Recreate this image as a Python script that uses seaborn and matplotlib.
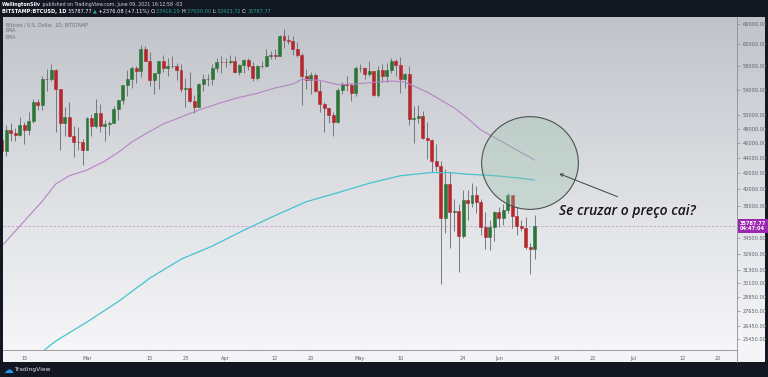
import numpy as np
import pandas as pd
import matplotlib
matplotlib.use("Agg")
import matplotlib.pyplot as plt
import matplotlib.dates as mdates
from matplotlib.colors import LinearSegmentedColormap
from matplotlib.patches import Ellipse, Rectangle
from matplotlib.lines import Line2D
import matplotlib.transforms as mtransforms
import seaborn as sns

# ---------------- data ----------------
start_date = "2021-02-10"
end_date = "2021-06-09"

opens = [46420, 44850, 47900, 47400, 47200, 48600, 47900, 49200, 52100, 51600,
         55900, 55850, 57400, 54100, 48900, 49700, 47000, 46200, 46100,
         45100, 49600, 48400, 50400, 48400, 48700, 48900, 51000, 52400, 54900,
         55900, 57800, 57200, 61200, 58970, 55600, 56900, 58900, 57650, 58050,
         58100, 57350, 54100, 54350, 52300, 51300, 55050, 55850, 55800, 57650, 58800,
         58750, 58720, 59000, 57050, 58200, 59100, 58000, 56000, 58100, 58050,
         59800, 59950, 59900, 63500, 62900, 62700, 61200, 60000, 56300, 55700,
         56500, 53800, 51700, 51150, 50100, 49050, 54000, 55050, 54850, 53550,
         57750, 57800, 56600, 57200, 53200, 57450, 56400, 57400, 58900, 58250,
         55850, 56700, 49400, 49650, 49900, 46750, 46450, 43550, 42850, 36650,
         40600, 37300, 37500, 34700, 38750, 38350, 39300, 38500, 35700, 34600, 35700,
         37300, 36700, 37600, 39250, 36850, 35800, 35550, 33600, 33416.19]
highs = [47300, 48600, 48900, 48100, 49700, 49000, 50600, 52600, 52500, 56300,
         57500, 58350, 57500, 54200, 51300, 52000, 48400, 48300, 46600,
         49800, 50200, 52600, 51800, 49300, 49200, 51400, 52400, 54900, 57400,
         58100, 58000, 61800, 61700, 60600, 56900, 58900, 60000, 59400, 59900,
         58600, 58400, 55990, 57000, 53200, 55100, 56600, 56600, 58400, 59400, 59800,
         59500, 60000, 59800, 58500, 59300, 59400, 58700, 58200, 58900, 61200,
         60700, 61100, 63800, 64850, 63800, 63500, 62500, 60400, 57500, 57000,
         56800, 55500, 52100, 51200, 50500, 54300, 55400, 56400, 55200, 58000,
         58400, 57900, 59000, 57200, 58000, 58400, 58600, 59500, 59300, 59600,
         56900, 58000, 51500, 51600, 50700, 49000, 46600, 45800, 43500, 42500,
         42200, 38800, 38300, 39900, 39900, 40800, 40400, 38800, 37300, 36400, 37500,
         37900, 38200, 39500, 39300, 37900, 36500, 36800, 34000, 37000.00]
lows = [43700, 44200, 46300, 46300, 47000, 45800, 47100, 48800, 50900, 50900,
        53900, 55500, 47500, 45000, 47000, 46900, 44100, 45000, 43000,
        45000, 47000, 48100, 47500, 46300, 47100, 48900, 49300, 51800, 53100,
        54300, 55100, 56100, 58900, 54600, 53300, 54100, 57000, 56300, 57800,
        55600, 53700, 51300, 52000, 50400, 51300, 53900, 54700, 54900, 57000, 56900,
        57900, 58500, 56900, 56500, 56800, 57400, 55500, 55700, 57700, 57900,
        59300, 59300, 59800, 61300, 62000, 60000, 59700, 51600, 54200, 53400,
        53600, 50500, 47600, 48800, 46950, 48800, 53300, 53900, 52300, 53000,
        57000, 55900, 56400, 53000, 52900, 55300, 55300, 56900, 56300, 53500,
        54400, 48600, 46000, 48800, 46600, 43800, 42100, 42300, 30000, 35000,
        33500, 35300, 31100, 34500, 36500, 37900, 37200, 34800, 33400, 33300, 34200,
        35700, 35900, 37200, 35600, 34800, 35300, 33400, 31000, 32423.72]
closes = [44850, 47900, 47400, 47200, 48600, 47900, 49200, 52100, 51600, 55900,
          55850, 57400, 54100, 48900, 49700, 47000, 46200, 46100, 45100,
          49600, 48400, 50400, 48400, 48700, 48900, 51000, 52400, 54900, 55900,
          57800, 57200, 61200, 58970, 55600, 56900, 58900, 57650, 58050, 58100,
          57350, 54100, 54350, 52300, 51300, 55050, 55850, 55800, 57650, 58800, 58750,
          58720, 59000, 57050, 58200, 59100, 58000, 56000, 58100, 58050, 59800,
          59950, 59900, 63500, 62900, 62700, 61200, 60000, 56300, 55700, 56500,
          53800, 51700, 51150, 50100, 49050, 54000, 55050, 54850, 53550, 57750,
          57800, 56600, 57200, 53200, 57450, 56400, 57400, 58900, 58250, 55850,
          56700, 49400, 49650, 49900, 46750, 46450, 43550, 42850, 36650, 40600,
          37300, 37500, 34700, 38750, 38350, 39300, 38500, 35700, 34600, 35700, 37300,
          36700, 37600, 39250, 36850, 35800, 35550, 33600, 33416.19, 35787.77]

ema50_dates = ["2021-02-10", "2021-02-15", "2021-02-19", "2021-02-22", "2021-02-25",
               "2021-03-01", "2021-03-05", "2021-03-08", "2021-03-11", "2021-03-14",
               "2021-03-18", "2021-03-22", "2021-03-26", "2021-03-31", "2021-04-04",
               "2021-04-08", "2021-04-12", "2021-04-16", "2021-04-18", "2021-04-22",
               "2021-04-26", "2021-04-30", "2021-05-04", "2021-05-08", "2021-05-11",
               "2021-05-13", "2021-05-16", "2021-05-19", "2021-05-22", "2021-05-25",
               "2021-05-28", "2021-06-01", "2021-06-05", "2021-06-09"]
ema50_vals = [33690, 36330, 38580, 40630, 41650, 42390, 43560, 44730, 46140, 47270,
              48710, 49770, 50830, 51990, 52810, 53450, 54330, 54990, 55780, 55600,
              54900, 55000, 55260, 55490, 55320, 54650, 53660, 52390, 51180, 49590,
              47840, 46420, 45040, 43690]

ema200_dates = ["2021-02-18", "2021-02-22", "2021-03-01", "2021-03-08", "2021-03-15",
                "2021-03-22", "2021-03-29", "2021-04-05", "2021-04-12", "2021-04-19",
                "2021-04-26", "2021-05-03", "2021-05-10", "2021-05-17", "2021-05-21",
                "2021-05-25", "2021-05-31", "2021-06-05", "2021-06-09"]
ema200_vals = [24200, 25270, 26770, 28480, 30560, 32370, 33680, 35330, 36940, 38520,
               39580, 40720, 41670, 42070, 42060, 41860, 41670, 41410, 41130]

ytick_vals = [66000, 62000, 58000, 54000, 50000, 48000, 46000, 44000, 42000, 40000,
              38000, 34500, 32900, 31300, 30100, 28850, 27650, 26450, 25450]
xtick_dates = ["2021-02-15", "2021-03-01", "2021-03-15", "2021-03-23", "2021-04-01",
               "2021-04-12", "2021-04-20", "2021-05-01", "2021-05-10", "2021-05-24",
               "2021-06-01", "2021-06-14", "2021-06-22", "2021-07-01", "2021-07-12",
               "2021-07-20"]
xtick_labels = ["15", "Mar", "15", "23", "Apr", "12", "20", "May", "10", "24",
                "Jun", "14", "22", "Jul", "12", "20"]

last_price_text = "35787.77"
countdown_text = "04:47:04"
note_text = "Se cruzar o preço cai?"

# ---------------- figure ----------------
sns.set_style("white")
plt.rcParams["font.family"] = ["DejaVu Sans"]

W, H = 768, 377
fig = plt.figure(figsize=(W / 100, H / 100), dpi=100)
fig.patch.set_facecolor("#f4f4f6")


def fx(px):
    return px / W


def fy(py):
    return 1 - py / H


# background gradient
bg = fig.add_axes([0, 0, 1, 1], zorder=0)
bg.set_xlim(0, 1)
bg.set_ylim(0, 1)
bg.axis("off")
cmap = LinearSegmentedColormap.from_list("bgc", ["#c0c3c9", "#dcdee2", "#f6f6f8"])
grad = np.linspace(0, 1, 256).reshape(-1, 1)
bg.imshow(grad, cmap=cmap, aspect="auto", extent=[0, 1, fy(350), fy(16)], origin="upper")
dark = "#131722"
bg.add_patch(Rectangle((0, fy(16.5)), 1, 1 - fy(16.5), color=dark, lw=0))
bg.add_patch(Rectangle((0, 0), 1, fy(362), color=dark, lw=0))
bg.add_patch(Rectangle((0, 0), fx(2.5), 1, color=dark, lw=0))
bg.add_patch(Rectangle((fx(765), 0), 1 - fx(765), 1, color=dark, lw=0))

# main axes
ax = fig.add_axes([fx(3), fy(350), fx(736.7) - fx(3), fy(16.5) - fy(350)], zorder=2)
ax.set_facecolor("none")

d = mdates.date2num(pd.date_range(start_date, end_date, freq="D"))
o = np.array(opens, float)
h = np.array(highs, float)
l = np.array(lows, float)
c = np.array(closes, float)
up = c >= o
green, red = "#2b7539", "#b3272d"
cols = np.where(up, green, red)

ax.set_yscale("log")
ax.vlines(d, l, h, color="#707277", lw=0.65, zorder=3)
ax.bar(d, np.abs(c - o), bottom=np.minimum(o, c), width=0.66, color=cols,
       edgecolor=cols, linewidth=0.4, zorder=4)

sns.lineplot(x=mdates.date2num(pd.to_datetime(ema50_dates)), y=ema50_vals, ax=ax,
             color="#b584c4", lw=0.8, zorder=5)
sns.lineplot(x=mdates.date2num(pd.to_datetime(ema200_dates)), y=ema200_vals, ax=ax,
             color="#45c3cf", lw=0.9, zorder=5)

ax.axhline(closes[-1], color="#c7a0cf", lw=0.6, ls=(0, (3, 2)), zorder=1)

base = mdates.date2num(pd.Timestamp("2021-02-15"))
ax.set_xlim(base - 4.76, base + 159.12)
ax.set_ylim(24597, 67444)
ax.set_xlabel("")
ax.set_ylabel("")

ax.yaxis.tick_right()
ax.set_yticks(ytick_vals)
ax.set_yticklabels([f"{v:.2f}" for v in ytick_vals])
ax.yaxis.set_minor_locator(matplotlib.ticker.NullLocator())
ax.set_xticks(mdates.date2num(pd.to_datetime(xtick_dates)))
ax.set_xticklabels(xtick_labels)
ax.tick_params(axis="both", which="major", length=2, width=0.5, color="#8a8d93",
               labelsize=3.6, labelcolor="#5d606b", pad=2)
for s in ["top", "left"]:
    ax.spines[s].set_visible(False)
for s in ["right", "bottom"]:
    ax.spines[s].set_color("#8a8d93")
    ax.spines[s].set_linewidth(0.6)
fig.add_artist(Line2D([fx(736.7), fx(736.7)], [fy(350), fy(362)], color="#8a8d93", lw=0.6))

# price label on the axis
trans = mtransforms.blended_transform_factory(ax.transAxes, ax.transData)
ax.text(1.004, closes[-1], f"{last_price_text}\n{countdown_text}", transform=trans,
        ha="left", va="center", fontsize=3.6, color="white", fontweight="bold",
        linespacing=1.1, clip_on=False, zorder=10,
        bbox=dict(boxstyle="square,pad=0.35", fc="#9c27b0", ec="none"))

# drawing: ellipse, arrow and note
ell = Ellipse((0.7183, 0.5607), 0.1318, 0.278, transform=ax.transAxes,
              fc=(0.60, 0.76, 0.66, 0.32), ec="#4b5250", lw=0.8, zorder=6)
ax.add_patch(ell)
ax.annotate("", xy=(0.7547, 0.5316), xytext=(0.841, 0.4567), xycoords="axes fraction",
            textcoords="axes fraction",
            arrowprops=dict(arrowstyle="->", color="#3e4342", lw=0.7,
                            mutation_scale=5), zorder=7)
ax.text(0.7578, 0.4153, note_text, transform=ax.transAxes, ha="left", va="center",
        fontsize=10, style="italic", color="#161616", family=["Open Sans", "DejaVu Sans"],
        fontweight="semibold", zorder=8)

# legend text in plot
fig.text(fx(6), fy(24.7), "Bitcoin / U.S. Dollar, 1D, BITSTAMP", fontsize=3.4,
         color="#6a6d75", va="center")
fig.text(fx(6), fy(30.9), "EMA", fontsize=3.4, color="#6a6d75", va="center")
fig.text(fx(6), fy(37.7), "EMA", fontsize=3.4, color="#6a6d75", va="center")

# header
renderer = fig.canvas.get_renderer()


def chain(x, y, pieces, size):
    for s, color, weight in pieces:
        t = fig.text(fx(x), fy(y), s, color=color, fontsize=size, fontweight=weight,
                     va="center", ha="left")
        x += t.get_window_extent(renderer=renderer).width


chain(2, 4.5, [("WellingtonSilv", "#ffffff", "bold"),
               (" published on TradingView.com, June 09, 2021 16:12:58 -03", "#d1d4dc", "normal")], 3.4)
tg = "#26a69a"
chain(2, 11.2, [("BITSTAMP:BTCUSD, 1D ", "#ffffff", "bold"),
                ("35787.77 ", "#ffffff", "normal"),
                ("▲", tg, "normal"),
                (" +2376.08 (+7.11%) ", "#ffffff", "normal"),
                ("O:", "#ffffff", "normal"), ("33416.19 ", tg, "normal"),
                ("H:", "#ffffff", "normal"), ("37000.00 ", tg, "normal"),
                ("L:", "#ffffff", "normal"), ("32423.72 ", tg, "normal"),
                ("C:", "#ffffff", "normal"), ("35787.77", tg, "normal")], 3.6)

# footer
fig.text(fx(3), fy(369.5), "☁", fontsize=7, color="#2196f3", va="center", ha="left")
fig.text(fx(14), fy(369.5), "TradingView", fontsize=4.3, color="#e0e3eb", va="center", ha="left")

fig.savefig("out.png", dpi=100)
